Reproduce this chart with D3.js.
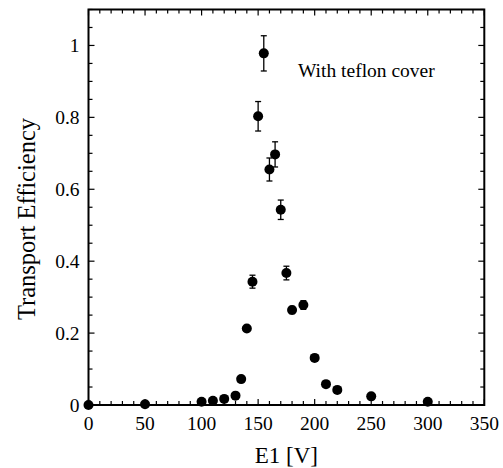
<!DOCTYPE html>
<html>
<head>
<meta charset="utf-8">
<script src="https://cdn.jsdelivr.net/npm/d3@7"></script>
<style>
  body { margin: 0; background: #fff; }
</style>
</head>
<body>
<div id="wrapper"></div>
<script>
// E1 voltage [V]
const voltage = [0, 50, 100, 110, 120, 130, 135, 140, 145, 150, 155, 160, 165, 170, 175, 180, 190, 200, 210, 220, 250, 300]
// transport efficiency
const efficiency = [0, 0.002, 0.009, 0.012, 0.017, 0.026, 0.072, 0.213, 0.343, 0.803, 0.978, 0.655, 0.697, 0.543, 0.367, 0.264, 0.278, 0.131, 0.058, 0.042, 0.024, 0.009]
// error (half-length), 0 where no bar visible
const errors = [0, 0, 0, 0, 0, 0, 0, 0, 0.018, 0.041, 0.049, 0.032, 0.035, 0.027, 0.019, 0.010, 0.012, 0, 0, 0, 0, 0]

const xTicks = [0, 50, 100, 150, 200, 250, 300, 350]
const yTicks = [0, 0.2, 0.4, 0.6, 0.8, 1]

const serif = "'Liberation Serif', 'Times New Roman', Times, serif"

const dimensions = { width: 503, height: 468 }
const margin = { left: 88.5, right: 18.7, top: 9.5, bottom: 63 }
const innerW = dimensions.width - margin.left - margin.right
const innerH = dimensions.height - margin.top - margin.bottom

const x = d3.scaleLinear().domain([0, 350]).range([0, innerW])
const y = d3.scaleLinear().domain([0, 1.1]).range([innerH, 0])

const svg = d3.select("#wrapper")
    .append("svg")
        .attr("width", dimensions.width)
        .attr("height", dimensions.height)
        .style("font-family", serif)

const bounds = svg.append("g")
    .attr("transform", `translate(${margin.left},${margin.top})`)

// minor ticks, all four sides, pointing in
const xMinor = d3.range(0, 351, 10)
const yMinor = d3.range(0, 1.1001, 0.05)

function tickLen(isMajor) { return isMajor ? 6 : 4 }
const isXMajor = v => v % 50 === 0
const isYMajor = v => Math.abs(v * 5 - Math.round(v * 5)) < 1e-6

const ticks = bounds.append("g")
    .attr("stroke", "#000")
    .attr("stroke-width", 1.2)

ticks.selectAll(".xb")
    .data(xMinor)
    .join("line")
    .attr("x1", d => x(d)).attr("x2", d => x(d))
    .attr("y1", innerH).attr("y2", d => innerH - tickLen(isXMajor(d)))
ticks.selectAll(".xt")
    .data(xMinor)
    .join("line")
    .attr("x1", d => x(d)).attr("x2", d => x(d))
    .attr("y1", 0).attr("y2", d => tickLen(isXMajor(d)))
ticks.selectAll(".yl")
    .data(yMinor)
    .join("line")
    .attr("y1", d => y(d)).attr("y2", d => y(d))
    .attr("x1", 0).attr("x2", d => tickLen(isYMajor(d)))
ticks.selectAll(".yr")
    .data(yMinor)
    .join("line")
    .attr("y1", d => y(d)).attr("y2", d => y(d))
    .attr("x1", innerW).attr("x2", d => innerW - tickLen(isYMajor(d)))

// tick labels
bounds.append("g")
    .selectAll("text")
    .data(xTicks)
    .join("text")
    .attr("x", d => x(d))
    .attr("y", innerH + 25)
    .attr("text-anchor", "middle")
    .style("font-family", serif)
    .style("font-size", "19.5px")
    .text(d => d)

bounds.append("g")
    .selectAll("text")
    .data(yTicks)
    .join("text")
    .attr("x", -9)
    .attr("y", d => y(d) + 6.5)
    .attr("text-anchor", "end")
    .style("font-family", serif)
    .style("font-size", "19.5px")
    .text(d => d)

// frame
bounds.append("rect")
    .attr("width", innerW)
    .attr("height", innerH)
    .attr("fill", "none")
    .attr("stroke", "#000")
    .attr("stroke-width", 2)

// error bars
const withErr = voltage.map((v, i) => ({ v, e: efficiency[i], err: errors[i] })).filter(d => d.err > 0)
const eb = bounds.append("g")
    .attr("stroke", "#000")
    .attr("stroke-width", 1.3)
eb.selectAll(".stem")
    .data(withErr)
    .join("line")
    .attr("x1", d => x(d.v)).attr("x2", d => x(d.v))
    .attr("y1", d => y(d.e - d.err)).attr("y2", d => y(d.e + d.err))
eb.selectAll(".capT")
    .data(withErr)
    .join("line")
    .attr("x1", d => x(d.v) - 3).attr("x2", d => x(d.v) + 3)
    .attr("y1", d => y(d.e + d.err)).attr("y2", d => y(d.e + d.err))
eb.selectAll(".capB")
    .data(withErr)
    .join("line")
    .attr("x1", d => x(d.v) - 3).attr("x2", d => x(d.v) + 3)
    .attr("y1", d => y(d.e - d.err)).attr("y2", d => y(d.e - d.err))

// points
bounds.selectAll(".pt")
    .data(voltage)
    .join("circle")
    .attr("cx", d => x(d))
    .attr("cy", (d, i) => y(efficiency[i]))
    .attr("r", 5)
    .attr("fill", "#000")

// annotation
bounds.append("text")
    .attr("x", 209.5)
    .attr("y", 67.5)
    .style("font-family", serif)
    .style("font-size", "19.5px")
    .text("With teflon cover")

// axis titles
svg.append("text")
    .attr("x", margin.left + x(175))
    .attr("y", 463)
    .attr("text-anchor", "middle")
    .style("font-family", serif)
    .style("font-size", "23px")
    .text("E1 [V]")

svg.append("text")
    .attr("transform", `translate(35,219) rotate(-90)`)
    .attr("text-anchor", "middle")
    .style("font-family", serif)
    .style("font-size", "24.5px")
    .text("Transport Efficiency")
</script>
</body>
</html>
